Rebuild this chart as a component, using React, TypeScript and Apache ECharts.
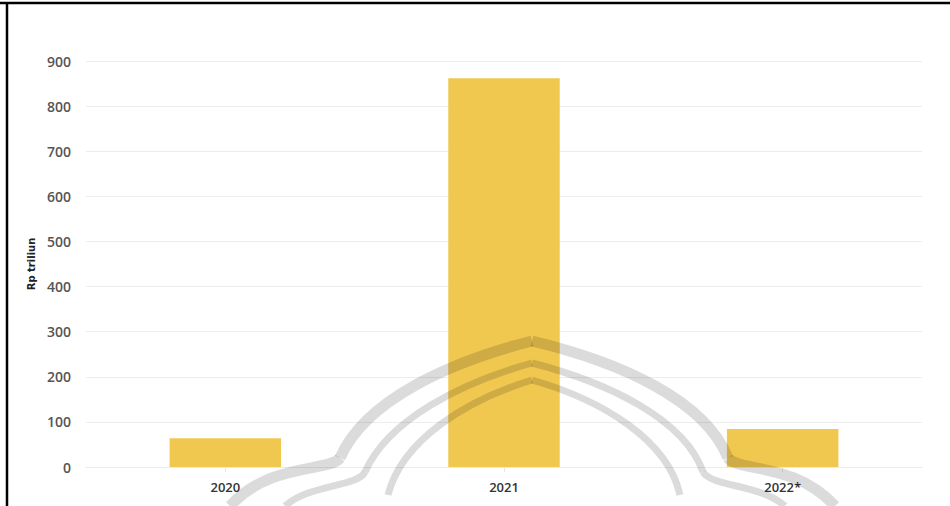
import React, { useEffect, useRef } from "react";
import * as echarts from "echarts";

const categories = ["2020", "2021", "2022*"];
const values = [64, 862, 84];
const yTicks = [0, 100, 200, 300, 400, 500, 600, 700, 800, 900];
const yAxisName = "Rp triliun";

export default function App() {
  const ref = useRef<HTMLDivElement>(null);
  useEffect(() => {
    if (!ref.current) return;
    const chart = echarts.init(ref.current, undefined, { renderer: "svg" });
    const wm = "rgba(0,0,0,0.14)";
    chart.setOption({
      animation: false,
      backgroundColor: "#ffffff",
      grid: { left: 86, right: 28, top: 61, bottom: 39, containLabel: false },
      xAxis: {
        type: "category",
        data: categories,
        axisLine: { show: true, lineStyle: { color: "#ebebeb", width: 1 } },
        axisTick: { show: true, alignWithLabel: true, length: 5, lineStyle: { color: "#e6e6e6" } },
        axisLabel: { color: "#333", fontFamily: "Open Sans", fontWeight: 600, fontSize: 13, margin: 13 },
      },
      yAxis: {
        type: "value",
        min: yTicks[0],
        max: yTicks[yTicks.length - 1],
        interval: 100,
        name: yAxisName,
        nameLocation: "middle",
        nameGap: 49,
        nameTextStyle: { fontFamily: "DejaVu Sans", fontWeight: "bold", fontSize: 10, color: "#222" },
        axisLine: { show: false },
        axisTick: { show: false },
        splitLine: { lineStyle: { color: "#ededed", width: 1 } },
        axisLabel: { color: "#555", fontFamily: "Open Sans", fontWeight: 600, fontSize: 14, margin: 15 },
      },
      series: [
        {
          type: "bar",
          data: values,
          barWidth: "40%",
          itemStyle: { color: "#F0C850" },
        },
      ],
      graphic: [
        { type: "line", shape: { x1: 0, y1: 3, x2: 950, y2: 3 }, style: { stroke: "#000", lineWidth: 2.5 }, z: 100 },
        { type: "line", shape: { x1: 7, y1: 2, x2: 7, y2: 506 }, style: { stroke: "#000", lineWidth: 2.5 }, z: 100 },
        // watermark arches (outer)
        { type: "bezierCurve", shape: { x1: 532, y1: 341, x2: 340, y2: 458, cpx1: 450, cpy1: 362, cpx2: 365, cpy2: 400 }, style: { stroke: wm, lineWidth: 11, fill: null }, z: 50 },
        { type: "bezierCurve", shape: { x1: 532, y1: 341, x2: 728, y2: 458, cpx1: 620, cpy1: 362, cpx2: 705, cpy2: 400 }, style: { stroke: wm, lineWidth: 11, fill: null }, z: 50 },
        { type: "bezierCurve", shape: { x1: 340, y1: 458, x2: 230, y2: 506, cpx1: 330, cpy1: 472, cpx2: 270, cpy2: 462 }, style: { stroke: wm, lineWidth: 11, fill: null }, z: 50 },
        { type: "bezierCurve", shape: { x1: 728, y1: 458, x2: 835, y2: 506, cpx1: 738, cpy1: 472, cpx2: 795, cpy2: 462 }, style: { stroke: wm, lineWidth: 11, fill: null }, z: 50 },
        // middle
        { type: "bezierCurve", shape: { x1: 532, y1: 363, x2: 365, y2: 472, cpx1: 460, cpy1: 383, cpx2: 388, cpy2: 420 }, style: { stroke: wm, lineWidth: 7, fill: null }, z: 50 },
        { type: "bezierCurve", shape: { x1: 532, y1: 363, x2: 703, y2: 472, cpx1: 610, cpy1: 383, cpx2: 685, cpy2: 420 }, style: { stroke: wm, lineWidth: 7, fill: null }, z: 50 },
        { type: "bezierCurve", shape: { x1: 365, y1: 472, x2: 285, y2: 506, cpx1: 357, cpy1: 487, cpx2: 310, cpy2: 484 }, style: { stroke: wm, lineWidth: 7, fill: null }, z: 50 },
        { type: "bezierCurve", shape: { x1: 703, y1: 472, x2: 785, y2: 506, cpx1: 712, cpy1: 487, cpx2: 760, cpy2: 484 }, style: { stroke: wm, lineWidth: 7, fill: null }, z: 50 },
        // inner
        { type: "bezierCurve", shape: { x1: 532, y1: 380, x2: 388, y2: 495, cpx1: 466, cpy1: 400, cpx2: 402, cpy2: 440 }, style: { stroke: wm, lineWidth: 7, fill: null }, z: 50 },
        { type: "bezierCurve", shape: { x1: 532, y1: 380, x2: 680, y2: 495, cpx1: 602, cpy1: 400, cpx2: 668, cpy2: 440 }, style: { stroke: wm, lineWidth: 7, fill: null }, z: 50 },
      ],
    });
    return () => chart.dispose();
  }, []);
  return (
    <div
      ref={ref}
      style={{ position: "fixed", left: 0, top: 0, width: 950, height: 506 }}
    />
  );
}
